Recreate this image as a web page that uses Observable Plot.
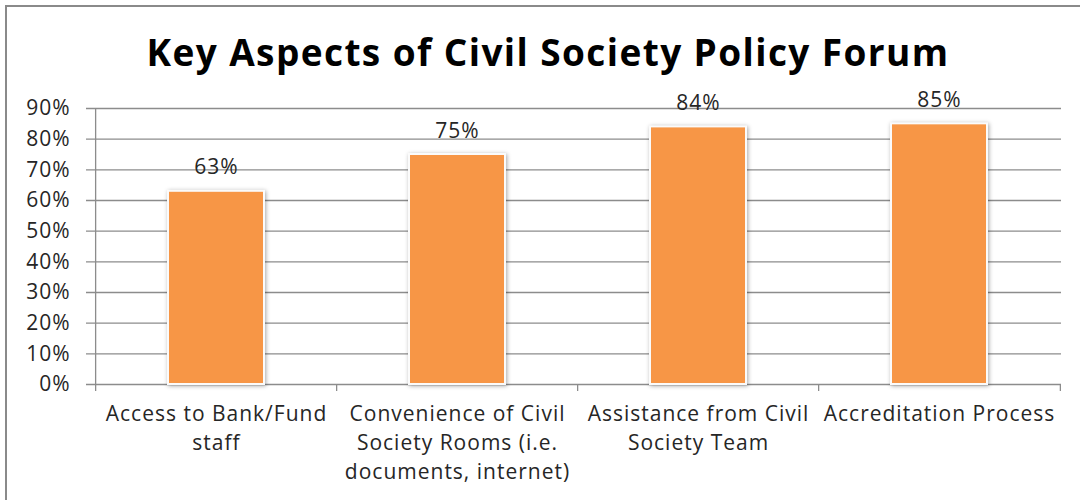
<!DOCTYPE html>
<html>
<head>
<meta charset="utf-8">
<script src="https://cdn.jsdelivr.net/npm/d3@7"></script>
<script src="https://cdn.jsdelivr.net/npm/@observablehq/plot@0.6"></script>
<style>
  html, body { margin: 0; padding: 0; background: #fff; }
  #wrap { position: relative; width: 1080px; height: 500px; overflow: hidden; font-family: "Open Sans", sans-serif; }
  #frame { position: absolute; left: 5px; top: 5px; width: 1200px; height: 600px; border-left: 2px solid #8a8a8a; border-top: 2px solid #8a8a8a; }
  #title { position: absolute; left: 48px; width: 1000px; top: 27px; text-align: center; font-size: 37px; letter-spacing: 1.4px; font-weight: 700; color: #000; margin: 0; line-height: 50px; }
  #chart { position: absolute; left: 0; top: 60px; }
  #chart svg { overflow: visible; }
  #chart svg text { fill: #262626; letter-spacing: 1px; }
</style>
</head>
<body>
<div id="wrap">
  <div id="frame"></div>
  <div id="chart"></div>
  <h1 id="title">Key Aspects of Civil Society Policy Forum</h1>
</div>
<script>
const categories = [
  "Access to Bank/Fund staff",
  "Convenience of Civil Society Rooms (i.e. documents, internet)",
  "Assistance from Civil Society Team",
  "Accreditation Process"
];
const tickLabels = [
  "Access to Bank/Fund\nstaff",
  "Convenience of Civil\nSociety Rooms (i.e.\ndocuments, internet)",
  "Assistance from Civil\nSociety Team",
  "Accreditation Process"
];
const values = [0.63, 0.75, 0.84, 0.85];
const yTicks = [0, 0.1, 0.2, 0.3, 0.4, 0.5, 0.6, 0.7, 0.8, 0.9];

const data = categories.map((c, i) => ({category: c, value: values[i]}));
const labelOf = new Map(categories.map((c, i) => [c, tickLabels[i]]));

const W = 1080, mL = 94, mR = 19;
const step = (W - mL - mR) / categories.length;
const gridColor = "#8c8c8c";

const plot = Plot.plot({
  width: W,
  height: 440,
  marginTop: 48,
  marginBottom: 116,
  marginLeft: mL,
  marginRight: mR,
  style: {fontFamily: "Open Sans, sans-serif", fontSize: "21px", color: "#262626", background: "transparent"},
  x: {domain: categories, paddingInner: 0.6, paddingOuter: 0.3},
  y: {domain: [0, 0.9]},
  marks: [
    Plot.ruleY(yTicks, {y: d => d, stroke: gridColor, strokeWidth: 1.3, insetLeft: -8}),
    Plot.axisY({ticks: yTicks, tickFormat: d3.format(".0%"), tickSize: 0, tickPadding: 24, fontSize: 21, label: null}),
    Plot.ruleX([categories[0]], {x: d => d, dx: -step / 2, y1: 0, y2: 0.9, stroke: gridColor, strokeWidth: 1.3}),
    Plot.ruleX(categories, {x: d => d, dx: -step / 2, y1: 0, y2: 0, insetBottom: -7, stroke: gridColor, strokeWidth: 1.3}),
    Plot.ruleX([categories[categories.length - 1]], {x: d => d, dx: step / 2, y1: 0, y2: 0, insetBottom: -7, stroke: gridColor, strokeWidth: 1.3}),
    Plot.barY(data, {x: "category", y: "value", fill: "#f79646", stroke: "#fbfbfb", strokeWidth: 2}),
    Plot.text(data, {x: "category", y: "value", text: d => d3.format(".0%")(d.value), lineAnchor: "bottom", dy: -17, fontSize: 21, fill: "#262626"}),
    Plot.axisX({tickSize: 0, tickPadding: 16, tickFormat: d => labelOf.get(d), fontSize: 21, label: null, lineHeight: 1.38})
  ]
});
plot.querySelectorAll('g[aria-label="bar"] rect').forEach(r => {
  r.style.filter = "drop-shadow(1px 1px 2px rgba(0,0,0,0.35))";
});
document.getElementById("chart").appendChild(plot);
</script>
</body>
</html>
